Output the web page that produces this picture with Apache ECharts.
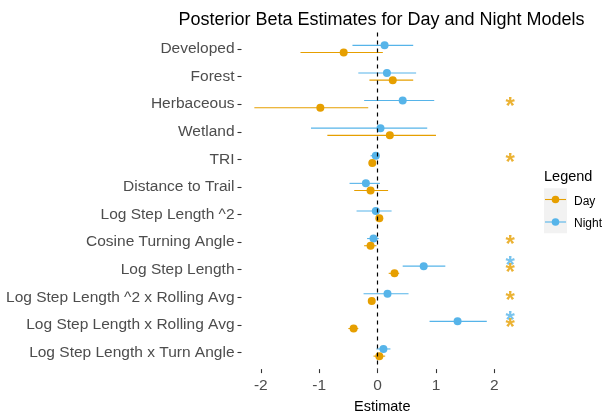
<!DOCTYPE html>
<html>
<head>
<meta charset="utf-8">
<script src="https://cdn.jsdelivr.net/npm/echarts@6/dist/echarts.min.js"></script>
<style>
  html, body { margin: 0; padding: 0; background: #fff; }
  #chart { width: 615px; height: 419px; }
</style>
</head>
<body>
<div id="chart"></div>
<script>
var categories = ['Developed', 'Forest', 'Herbaceous', 'Wetland', 'TRI', 'Distance to Trail',
    'Log Step Length ^2', 'Cosine Turning Angle', 'Log Step Length',
    'Log Step Length ^2 x Rolling Avg', 'Log Step Length x Rolling Avg', 'Log Step Length x Turn Angle'];

// posterior means and interval ends
var dayEst   = [-0.58, 0.26, -0.98, 0.21, -0.09, -0.12, 0.03, -0.12, 0.29, -0.10, -0.41, 0.03];
var dayLow   = [-1.32, -0.14, -2.11, -0.86, -0.15, -0.40, -0.01, -0.23, 0.19, -0.14, -0.50, -0.07];
var dayHigh  = [0.09, 0.61, -0.16, 1.00, -0.03, 0.18, 0.07, -0.02, 0.37, -0.06, -0.33, 0.13];
var nightEst  = [0.12, 0.16, 0.43, 0.05, -0.03, -0.20, -0.03, -0.07, 0.79, 0.17, 1.37, 0.10];
var nightLow  = [-0.43, -0.33, -0.23, -1.14, -0.12, -0.48, -0.36, -0.18, 0.43, -0.24, 0.89, -0.02];
var nightHigh = [0.61, 0.66, 0.97, 0.85, 0.03, 0.04, 0.24, 0.02, 1.16, 0.53, 1.87, 0.22];
// 1 = interval excludes zero (starred)
var daySig   = [0, 0, 1, 0, 1, 0, 0, 1, 1, 1, 1, 0];
var nightSig = [0, 0, 0, 0, 0, 0, 0, 0, 1, 0, 1, 0];
var starX = 2.27;
var xTicks = [-2, -1, 0, 1, 2];

var DAY = '#E69F00', NIGHT = '#56B4E9';
var dodge = 0.13;
var FONT = 'Liberation Sans';

function rangeData(lo, hi, off) {
    return categories.map(function (c, i) { return [lo[i], hi[i], i + off]; });
}
function pointData(est, off) {
    return categories.map(function (c, i) { return [est[i], i + off]; });
}
function starData(sig, off) {
    var out = [];
    sig.forEach(function (s, i) { if (s) out.push([starX, i + off]); });
    return out;
}
function rangeSeries(name, lo, hi, off, color) {
    return {
        name: name,
        type: 'custom',
        data: rangeData(lo, hi, off),
        encode: { x: [0, 1], y: 2 },
        silent: true,
        renderItem: function (params, api) {
            var a = api.coord([api.value(0), api.value(2)]);
            var b = api.coord([api.value(1), api.value(2)]);
            return {
                type: 'line',
                shape: { x1: a[0], y1: a[1], x2: b[0], y2: b[1] },
                style: { stroke: color, lineWidth: 1.1 }
            };
        }
    };
}

var myChart = echarts.init(document.getElementById('chart'));
var option = {
    animation: false,
    backgroundColor: '#fff',
    textStyle: { fontFamily: FONT },
    title: {
        text: 'Posterior Beta Estimates for Day and Night Models',
        left: 376.5,
        textAlign: 'center',
        top: 6,
        textStyle: { fontFamily: FONT, fontSize: 18, fontWeight: 'normal', color: '#000' }
    },
    grid: { left: 241.5, right: 92, top: 32.4, bottom: 49.8, containLabel: false },
    xAxis: {
        type: 'value',
        min: -2.33,
        max: 2.49,
        name: 'Estimate',
        nameLocation: 'middle',
        nameGap: 26,
        nameTextStyle: { fontFamily: FONT, fontSize: 14.5, color: '#000' },
        axisLine: { show: false, onZero: false },
        splitLine: { show: false },
        axisTick: { show: true, length: 4, customValues: xTicks, lineStyle: { color: '#333', width: 1.1 } },
        axisLabel: { customValues: xTicks, margin: 9, fontFamily: FONT, fontSize: 15.5, color: '#4D4D4D' }
    },
    yAxis: {
        type: 'value',
        inverse: true,
        min: -0.6,
        max: 11.6,
        axisLine: { show: false, onZero: false },
        splitLine: { show: false },
        axisTick: { show: true, length: 4, customValues: categories.map(function (c, i) { return i; }),
            lineStyle: { color: '#333', width: 1.1 } },
        axisLabel: {
            customValues: categories.map(function (c, i) { return i; }),
            margin: 7,
            padding: [2, 0, 0, 0],
            fontFamily: FONT, fontSize: 15.5, color: '#4D4D4D',
            formatter: function (v) { return categories[Math.round(v)]; }
        }
    },
    series: [
        rangeSeries('Night', nightLow, nightHigh, -dodge, NIGHT),
        rangeSeries('Day', dayLow, dayHigh, dodge, DAY),
        {
            name: 'Night', type: 'scatter', symbol: 'circle', symbolSize: 8,
            itemStyle: { color: NIGHT, opacity: 1 },
            data: pointData(nightEst, -dodge),
            markLine: {
                silent: true, symbol: 'none', label: { show: false },
                lineStyle: { color: '#000', type: [4, 4], width: 1.2 },
                data: [{ xAxis: 0 }]
            }
        },
        {
            name: 'Day', type: 'scatter', symbol: 'circle', symbolSize: 8,
            itemStyle: { color: DAY, opacity: 1 },
            data: pointData(dayEst, dodge)
        },
        {
            name: 'Night sig', type: 'scatter', symbolSize: 0, silent: true,
            data: starData(nightSig, -dodge),
            label: { show: true, position: 'inside', formatter: '*', fontFamily: FONT, fontSize: 24,
                fontWeight: 'bold', color: NIGHT }
        },
        {
            name: 'Day sig', type: 'scatter', symbolSize: 0, silent: true,
            data: starData(daySig, dodge),
            label: { show: true, position: 'inside', formatter: '*', fontFamily: FONT, fontSize: 24,
                fontWeight: 'bold', color: DAY }
        }
    ],
    graphic: [
        { type: 'text', left: 544, top: 169, style: { text: 'Legend', fontFamily: FONT, fontSize: 14.5, fill: '#000' } },
        { type: 'rect', shape: { x: 544, y: 188.3, width: 23, height: 45 }, style: { fill: '#F2F2F2' } },
        { type: 'line', shape: { x1: 545, y1: 199.5, x2: 566, y2: 199.5 }, style: { stroke: DAY, lineWidth: 1.1 } },
        { type: 'circle', shape: { cx: 555.5, cy: 199.5, r: 3.8 }, style: { fill: DAY } },
        { type: 'line', shape: { x1: 545, y1: 222, x2: 566, y2: 222 }, style: { stroke: NIGHT, lineWidth: 1.1 } },
        { type: 'circle', shape: { cx: 555.5, cy: 222, r: 3.8 }, style: { fill: NIGHT } },
        { type: 'text', left: 574, top: 196, style: { text: 'Day', fontFamily: FONT, fontSize: 12, fill: '#000' } },
        { type: 'text', left: 574, top: 218, style: { text: 'Night', fontFamily: FONT, fontSize: 12, fill: '#000' } }
    ]
};
myChart.setOption(option);
window.addEventListener('resize', function () {
    myChart.resize();
});
</script>
</body>
</html>
